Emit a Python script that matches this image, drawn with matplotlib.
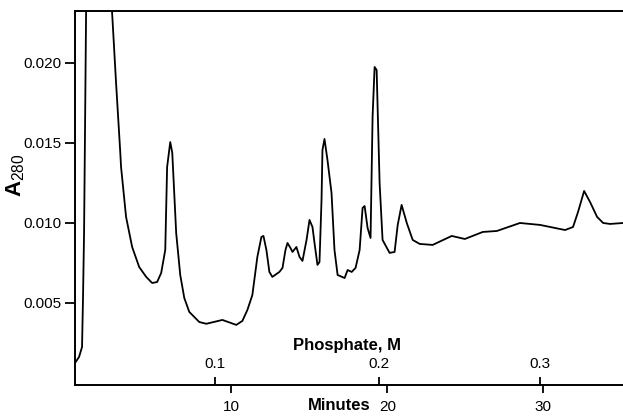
import numpy as np
import matplotlib
matplotlib.use("Agg")
import matplotlib.pyplot as plt

FONT = ["Liberation Sans", "DejaVu Sans"]
plt.rcParams["font.family"] = FONT
plt.rcParams["mathtext.fontset"] = "custom"
plt.rcParams["mathtext.rm"] = FONT[0]

# elution trace: time (min) vs A280
minutes = [0.0, 0.26, 0.45, 0.51, 0.58, 0.64, 0.71, 0.9, 1.5, 2.1, 2.37, 2.63,
           2.89, 2.95, 3.27, 3.66, 4.11, 4.56, 4.94, 5.26, 5.52, 5.78, 5.90,
           6.10, 6.23, 6.48, 6.74, 7.0, 7.32, 7.96, 8.41, 9.44, 10.33, 10.72,
           11.04, 11.36, 11.68, 11.94, 12.07, 12.26, 12.45, 12.64, 13.09, 13.29,
           13.48, 13.61, 13.8, 13.93, 14.18, 14.38, 14.57, 14.83, 15.02, 15.21,
           15.34, 15.53, 15.66, 15.79, 15.85, 15.98, 16.17, 16.43, 16.62, 16.82,
           17.27, 17.46, 17.72, 17.97, 18.23, 18.42, 18.55, 18.74, 18.93, 19.06,
           19.19, 19.32, 19.51, 19.70, 20.15, 20.47, 20.67, 20.92, 21.25, 21.63,
           22.08, 22.91, 24.13, 24.97, 26.12, 27.02, 28.5, 29.78, 31.39, 31.9,
           32.22, 32.61, 32.99, 33.44, 33.83, 34.27, 35.11]
a280 = [0.00125, 0.00163, 0.00225, 0.00519, 0.00938, 0.01563, 0.02325, 0.035,
        0.045, 0.035, 0.02325, 0.01875, 0.01456, 0.0135, 0.01038, 0.0085,
        0.00725, 0.00663, 0.00625, 0.00631, 0.00688, 0.00831, 0.0135, 0.01506,
        0.01438, 0.00938, 0.00675, 0.00531, 0.00444, 0.00381, 0.0037, 0.00394,
        0.00363, 0.00388, 0.00456, 0.0055, 0.00788, 0.00913, 0.00919, 0.00831,
        0.00694, 0.00663, 0.00694, 0.00719, 0.00831, 0.00875, 0.00844, 0.00819,
        0.0085, 0.00788, 0.00763, 0.00894, 0.01019, 0.00975, 0.00875, 0.00738,
        0.00756, 0.01144, 0.01456, 0.01525, 0.01394, 0.01188, 0.00831, 0.00675,
        0.00656, 0.00706, 0.00694, 0.00719, 0.00831, 0.01094, 0.01106, 0.00969,
        0.00906, 0.01663, 0.01975, 0.01956, 0.0125, 0.00894, 0.00813, 0.00819,
        0.00988, 0.01113, 0.01, 0.00894, 0.00869, 0.00863, 0.00919, 0.009,
        0.00944, 0.0095, 0.01, 0.00988, 0.00956, 0.00975, 0.01069, 0.012,
        0.01131, 0.01038, 0.01, 0.00994, 0.01]

min_ticks = [10, 20, 30]
a_ticks = [0.005, 0.010, 0.015, 0.020]
a_labels = ["0.005", "0.010", "0.015", "0.020"]
phos_pos = [8.99, 19.47, 29.78]          # minute where gradient reaches value
phos_labels = ["0.1", "0.2", "0.3"]

fig = plt.figure(figsize=(6.23, 4.18), dpi=100)
ax = fig.add_axes([0.1204, 0.079, 0.8796, 0.8947])

ax.plot(minutes, a280, color="black", lw=1.3)
ax.set_xlim(0, 35.1)
ax.set_ylim(-0.000125, 0.02325)

for s in ["left", "bottom", "top"]:
    ax.spines[s].set_linewidth(1.4)
ax.spines["right"].set_visible(False)

ax.set_xticks(min_ticks)
ax.set_xticklabels([str(t) for t in min_ticks])
ax.set_yticks(a_ticks)
ax.set_yticklabels(a_labels)
ax.tick_params(axis="x", direction="out", length=6, width=1.3,
               labelsize=11, pad=5)
ax.tick_params(axis="y", direction="out", length=7, width=1.3,
               labelsize=11, pad=3)
ax.set_xlabel("Minutes", fontsize=12, fontweight="bold")
ax.xaxis.set_label_coords(0.482, -0.036)
ax.set_ylabel(r"A$_{\mathrm{280}}$", fontsize=16, fontweight="bold")
ax.yaxis.set_label_coords(-0.088, 0.56)

# phosphate gradient scale riding on the bottom axis, ticks pointing up
ax2 = ax.twiny()
ax2.set_xlim(ax.get_xlim())
ax2.spines["top"].set_position(("axes", 0))
for s in ax2.spines.values():
    s.set_visible(False)
ax2.set_xticks(phos_pos)
ax2.set_xticklabels(phos_labels)
ax2.tick_params(axis="x", direction="out", length=6, width=1.3,
                labelsize=11, pad=4)
ax2.set_xlabel("Phosphate, M", fontsize=12, fontweight="bold")
ax2.xaxis.set_label_coords(0.496, 0.093)

fig.savefig("out.png", dpi=100)
